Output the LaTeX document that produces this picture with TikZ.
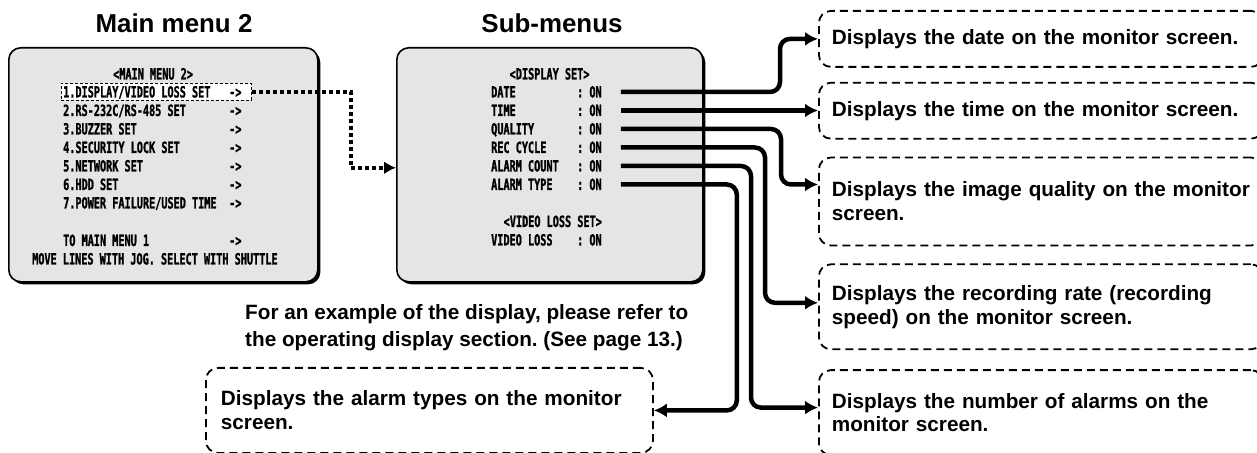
\documentclass[tikz,border=0pt]{standalone}
\usepackage{fontspec}
\setmainfont{Liberation Sans}
\newfontfamily\osdfont{DejaVu Sans Mono}[FakeStretch=0.66, BoldFeatures={FakeBold=1.2}]
\usepackage{xcolor}
\usepackage{tikz}
\usetikzlibrary{arrows.meta,positioning,shadows}

\definecolor{screengray}{gray}{0.9}

\newcommand{\menuline}[1]{\makebox[166bp][l]{#1}->}
\newcommand{\setline}[1]{\makebox[86bp][l]{#1}: ON}

\frenchspacing

\begin{document}
\begin{tikzpicture}[
    x=1bp, y=-1bp,
    screen/.style={
        draw,
        line width=1.6bp,
        fill=screengray,
        rounded corners=12bp,
        minimum width=308bp,
        minimum height=234bp,
        anchor=north west,
        drop shadow={shadow xshift=2.5bp, shadow yshift=-2.5bp, fill=black, opacity=1}
    },
    heading/.style={
        font=\fontsize{26}{30}\selectfont\bfseries
    },
    osd/.style={
        font=\fontsize{15.5}{18}\osdfont\bfseries,
        inner sep=0pt,
        anchor=base west,
        text height=11bp,
        text depth=0pt
    },
    hilite/.style={
        draw,
        dash pattern=on 3bp off 2bp,
        line width=0.8bp,
        fill=white,
        inner sep=0pt,
        minimum width=190bp,
        minimum height=17bp,
        anchor=west
    },
    note/.style={
        draw,
        dash pattern=on 8bp off 5bp,
        line width=1.8bp,
        rounded corners=12bp,
        text width=418bp,
        inner xsep=13bp,
        align=left,
        minimum height=56bp,
        font=\fontsize{20.8}{24}\selectfont\bfseries
    },
    remark/.style={
        font=\fontsize{20.8}{27}\selectfont\bfseries,
        align=left,
        inner sep=0pt
    },
    feed/.style={
        -{Latex[length=13bp,width=14bp]},
        line width=4.5bp,
        rounded corners=10bp
    },
    hop/.style={
        -{Latex[length=12bp,width=13bp]},
        line width=4bp,
        dash pattern=on 4bp off 3bp
    }
]

\useasboundingbox (0,0) rectangle (1257,453);

%---------------------------------------------------------------------
% Screens
%---------------------------------------------------------------------

\node[screen, minimum width=309bp] (main) at (8,47) {};
\node[screen, minimum width=306bp] (sub) at (396,47) {};

\node[heading] (mainTitle) at (174,23) {Main menu 2};
\node[heading] (subTitle) at (552,23) {Sub-menus};

%---------------------------------------------------------------------
% Main menu 2
%---------------------------------------------------------------------

\node[hilite] (hl) at (61,92) {};

\node[osd] (m0) at (113,79.5) {<MAIN MENU 2>};
\node[osd] (m1) at (63,97.5) {\menuline{1.DISPLAY/VIDEO LOSS SET}};
\node[osd] (m2) at (63,116) {\menuline{2.RS-232C/RS-485 SET}};
\node[osd] (m3) at (63,134.5) {\menuline{3.BUZZER SET}};
\node[osd] (m4) at (63,153) {\menuline{4.SECURITY LOCK SET}};
\node[osd] (m5) at (63,171.5) {\menuline{5.NETWORK SET}};
\node[osd] (m6) at (63,190) {\menuline{6.HDD SET}};
\node[osd] (m7) at (63,208.5) {\menuline{7.POWER FAILURE/USED TIME}};
\node[osd] (m8) at (63,246) {\menuline{TO MAIN MENU 1}};
\node[osd] (m9) at (32,264.5) {MOVE LINES WITH JOG. SELECT WITH SHUTTLE};

%---------------------------------------------------------------------
% Sub-menus
%---------------------------------------------------------------------

\node[osd] (s0) at (509.5,79.5) {<DISPLAY SET>};
\node[osd] (s1) at (491,97.5) {\setline{DATE}};
\node[osd] (s2) at (491,116) {\setline{TIME}};
\node[osd] (s3) at (491,134.5) {\setline{QUALITY}};
\node[osd] (s4) at (491,153) {\setline{REC CYCLE}};
\node[osd] (s5) at (491,171.5) {\setline{ALARM COUNT}};
\node[osd] (s6) at (491,190) {\setline{ALARM TYPE}};
\node[osd] (s7) at (503.5,227) {<VIDEO LOSS SET>};
\node[osd] (s8) at (491,245.5) {\setline{VIDEO LOSS}};

%---------------------------------------------------------------------
% Explanations
%---------------------------------------------------------------------

\node[note, anchor=north west] (date) at (818,10) {
    Displays the date on the monitor screen.
};
\node[note, below=14bp of date] (time) {
    Displays the time on the monitor screen.
};
\node[note, below=17bp of time, minimum height=88bp] (quality) {
    Displays the image quality on the monitor\\
    screen.
};
\node[note, below=17bp of quality, minimum height=85bp] (cycle) {
    Displays the recording rate (recording\\
    speed) on the monitor screen.
};
\node[note, below=19bp of cycle, minimum height=85bp] (count) {
    Displays the number of alarms on the\\
    monitor screen.
};
\node[note, anchor=north west, text width=417bp, inner xsep=15bp, minimum height=85bp] (type) at (205,367) {
    Displays the alarm types on the monitor\\
    screen.
};

\node[remark, anchor=north west] (remark) at (245,304) {
    For an example of the display, please refer to\\
    the operating display section. (See page 13.)
};

%---------------------------------------------------------------------
% Connectors
%---------------------------------------------------------------------

\draw[hop] (hl.east) -| ([xshift=-45bp,yshift=-3bp]sub.west) -- ([yshift=-3bp]sub.west);

\draw[feed] ([xshift=19bp]s1.east) -| ([xshift=-38bp]date.west) -- (date.west);
\draw[feed] ([xshift=19bp]s2.east) -- (s2.east -| time.west);
\draw[feed] ([xshift=19bp]s3.east) -| ([xshift=-37bp,yshift=17bp]quality.west) -- ([yshift=17bp]quality.west);
\draw[feed] ([xshift=19bp]s4.east) -| ([xshift=-53bp,yshift=4bp]cycle.west) -- ([yshift=4bp]cycle.west);
\draw[feed] ([xshift=19bp]s5.east) -| ([xshift=-67bp,yshift=5bp]count.west) -- ([yshift=5bp]count.west);
\draw[feed] ([xshift=19bp]s6.east) -| ([xshift=83bp]type.east) -- (type.east);

\end{tikzpicture}
\end{document}
